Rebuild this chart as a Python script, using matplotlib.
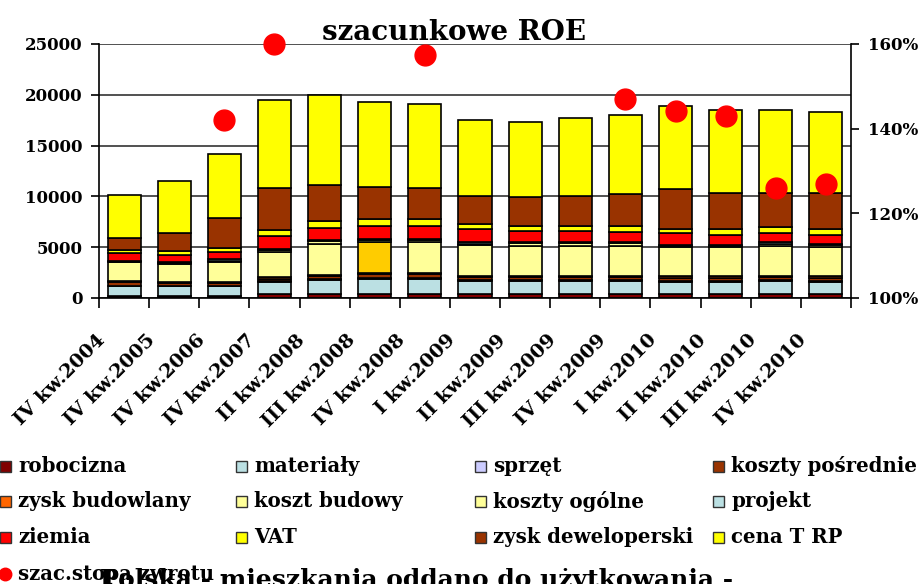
"""
Struktura ceny mieszkania (stacked bars) + szacunkowe ROE (red dots, right axis).
"""

import numpy as np
import matplotlib

matplotlib.use("Agg")
import matplotlib.pyplot as plt
from matplotlib.patches import Rectangle
from matplotlib.lines import Line2D
from matplotlib.ticker import FuncFormatter
from matplotlib.transforms import ScaledTranslation

# ── Data ──────────────────────────────────────────────────────
quarters = [
    "IV kw.2004", "IV kw.2005", "IV kw.2006", "IV kw.2007", "II kw.2008",
    "III kw.2008", "IV kw.2008", "I kw.2009", "II kw.2009", "III kw.2009",
    "IV kw.2009", "I kw.2010", "II kw.2010", "III kw.2010", "IV kw.2010",
]

robocizna = [200, 200, 200, 400, 400, 400, 400, 400, 400, 400, 400, 400, 400, 400, 400]
materialy = [980, 950, 950, 1200, 1350, 1500, 1500, 1300, 1300, 1300, 1300, 1140, 1140, 1300, 1140]
sprzet = [50, 60, 50, 50, 120, 50, 50, 60, 60, 60, 60, 120, 120, 60, 120]
koszty_posrednie = [350, 250, 300, 250, 250, 400, 400, 300, 300, 300, 300, 350, 350, 300, 350]
zysk_budowlany = [80, 100, 80, 150, 150, 130, 130, 150, 150, 150, 150, 150, 150, 150, 150]
koszt_budowy = [1850, 1750, 1950, 2510, 3010, 3000, 3000, 3000, 2910, 2910, 2910, 2830, 2830, 2910, 2830]
koszty_ogolne = [80, 120, 100, 200, 300, 220, 220, 150, 250, 250, 300, 150, 120, 200, 200]
projekt = [100, 150, 200, 100, 100, 80, 80, 150, 130, 130, 100, 100, 100, 150, 100]
ziemia = [700, 650, 650, 1240, 1210, 1300, 1300, 1250, 1130, 1130, 940, 1120, 990, 890, 910]
vat = [300, 350, 450, 590, 660, 660, 660, 520, 460, 460, 630, 400, 560, 600, 560]
zysk_deweloperski = [1180, 1850, 2900, 4100, 3570, 3150, 3050, 2760, 2810, 2950, 3140, 3930, 3600, 3400, 3600]
cena_t_rp = [4230, 5120, 6300, 8690, 8880, 8400, 8300, 7480, 7420, 7670, 7770, 8200, 8140, 8140, 7940]

# szacunkowa stopa zwrotu (ROE), NaN = no point
stopa_zwrotu = [np.nan, np.nan, 1.42, 1.60, np.nan, np.nan, 1.574, np.nan,
                np.nan, np.nan, 1.47, 1.442, 1.43, 1.26, 1.269]

# ── Styling ───────────────────────────────────────────────────
LIGHT_BLUE = "#BBE0E3"
LIGHT_YELLOW = "#FFFF99"
BROWN = "#993300"

series = [
    ("robocizna", robocizna, "#800000"),
    ("materiały", materialy, LIGHT_BLUE),
    ("sprzęt", sprzet, "#CCCCFF"),
    ("koszty pośrednie", koszty_posrednie, BROWN),
    ("zysk budowlany", zysk_budowlany, "#FF6600"),
    ("koszt budowy", koszt_budowy, LIGHT_YELLOW),
    ("koszty ogólne", koszty_ogolne, LIGHT_YELLOW),
    ("projekt", projekt, LIGHT_BLUE),
    ("ziemia", ziemia, "#FF0000"),
    ("VAT", vat, "#FFFF00"),
    ("zysk deweloperski", zysk_deweloperski, BROWN),
    ("cena T RP", cena_t_rp, "#FFFF00"),
]

plt.rcParams.update(
    {
        "font.family": "DejaVu Serif",
        "font.weight": "bold",
        "axes.linewidth": 1.2,
    }
)

W, H = 923, 584
fig = plt.figure(figsize=(W / 100, H / 100), dpi=100)
ax = fig.add_axes([99 / W, 1 - 298 / H, (851 - 99) / W, (298 - 44) / H])

x = np.arange(len(quarters))
bottom = np.zeros(len(x))
for name, values, color in series:
    colors = [color] * len(x)
    if name == "koszt budowy":
        colors[5] = "#FFCC00"  # III kw.2008 highlighted in the original
    ax.bar(x, values, width=0.66, bottom=bottom, color=colors,
           edgecolor="black", linewidth=1.2, zorder=2)
    bottom += np.array(values)

ax.set_xlim(-0.5, len(x) - 0.5)
ax.set_ylim(0, 25000)
ax.set_yticks(range(0, 25001, 5000))
ax.yaxis.grid(True, color="#333333", linewidth=1.2, zorder=0)
ax.set_axisbelow(True)
ax.spines["top"].set_visible(False)
ax.spines["right"].set_visible(False)
ax.tick_params(axis="y", direction="out", length=6, width=1.2, labelsize=12, pad=6)

ax.set_xticks(x)
ax.set_xticklabels(quarters, rotation=45, ha="right", va="center",
                   rotation_mode="anchor", fontsize=14)
ax.tick_params(axis="x", which="major", length=0, pad=14)
# shift labels down-left along their direction, as in the original
shift = ScaledTranslation(-0.22, -0.20, fig.dpi_scale_trans)
for lbl in ax.get_xticklabels():
    lbl.set_transform(lbl.get_transform() + shift)
ax.set_xticks(np.arange(-0.5, len(x), 1), minor=True)
ax.tick_params(axis="x", which="minor", direction="out", length=7, width=1.2)

# right axis: ROE
ax2 = ax.twinx()
ax2.plot(x, stopa_zwrotu, "o", color="#FF0000", markersize=15, clip_on=False, zorder=5)
ax2.set_ylim(1.0, 1.6)
ax2.set_yticks([1.0, 1.2, 1.4, 1.6])
ax2.yaxis.set_major_formatter(FuncFormatter(lambda v, _: f"{v * 100:.0f}%"))
ax2.tick_params(axis="y", direction="out", length=6, width=1.2, labelsize=12, pad=6)
for side in ("top", "left", "bottom"):
    ax2.spines[side].set_visible(False)

# ── Titles ────────────────────────────────────────────────────
fig.text(454 / W, 1 - 40 / H, "szacunkowe ROE", ha="center", va="baseline",
         fontsize=20, fontweight="bold")
fig.text(417 / W, -3 / H, "Polska - mieszkania oddano do użytkowania -",
         ha="center", va="baseline", fontsize=18, fontweight="bold")

# ── Legend (grid of 4 columns, drawn by hand) ─────────────────
col_x = [0, 236, 475, 713]
row_y = [466, 501, 537, 574]
order = [name for name, _, _ in series] + ["szac.stopa zwrotu"]
color_of = {name: c for name, _, c in series}
for k, name in enumerate(order):
    cx, cy = col_x[k % 4], row_y[k // 4]
    if name == "szac.stopa zwrotu":
        fig.add_artist(Line2D([(cx + 5) / W], [1 - cy / H], marker="o", markersize=9,
                              color="#FF0000", transform=fig.transFigure))
    else:
        fig.add_artist(Rectangle((cx / W, 1 - (cy + 6) / H), 11 / W, 11 / H,
                                 facecolor=color_of[name], edgecolor="#333333",
                                 linewidth=1.0, transform=fig.transFigure))
    fig.text((cx + 18) / W, 1 - cy / H, name, ha="left", va="center",
             fontsize=14.2, fontweight="bold")

fig.savefig("out.png", dpi=100, facecolor="white")
plt.close(fig)
